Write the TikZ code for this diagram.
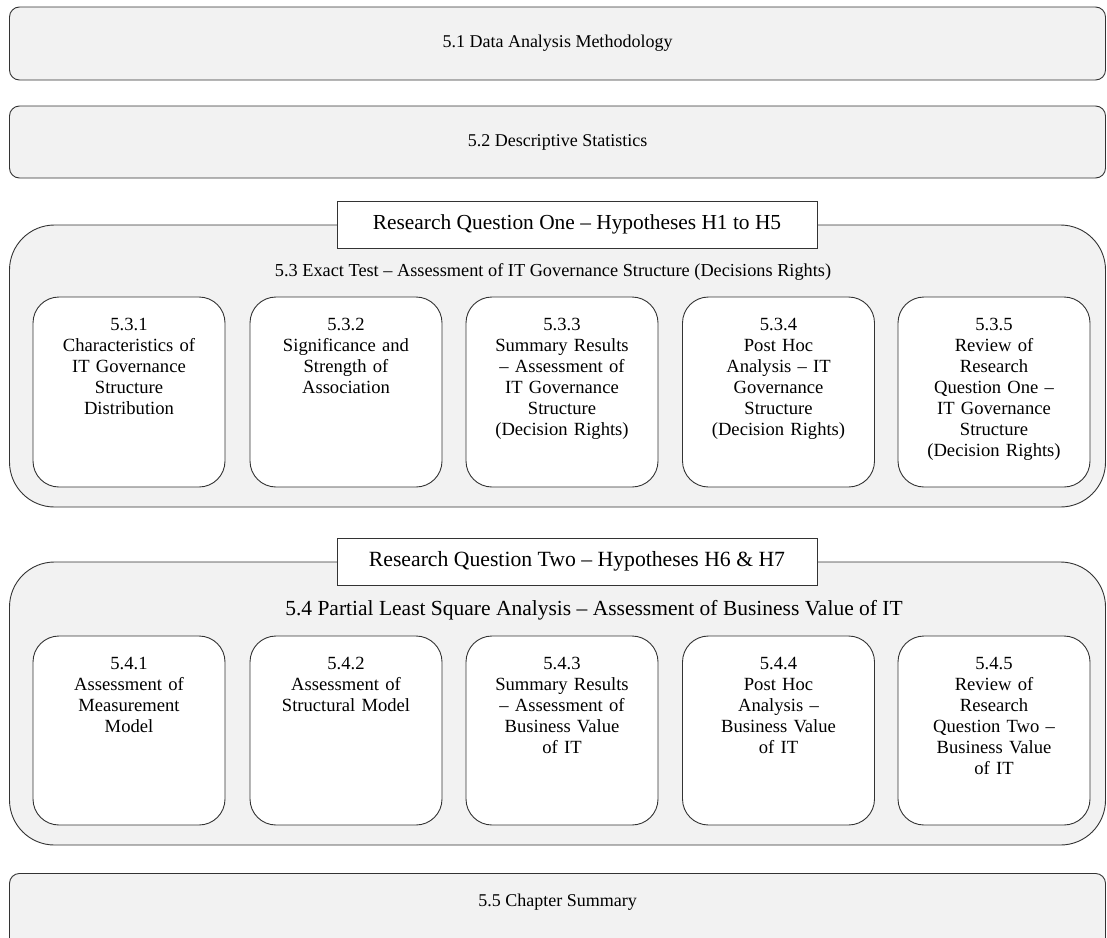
\documentclass[tikz,border=0pt]{standalone}
\usepackage{fontspec}
\setmainfont{Liberation Serif}
\definecolor{boxgray}{HTML}{F2F2F2}
\definecolor{edge}{HTML}{333333}
\begin{document}
\begin{tikzpicture}[x=1pt,y=-1pt,
  topbox/.style={draw=edge, fill=boxgray, rounded corners=10pt, line width=0.9pt,
    minimum width=1096pt, inner sep=0pt, font=\fontsize{18}{21}\selectfont},
  bigbox/.style={draw=edge, fill=boxgray, rounded corners=45pt, line width=0.9pt,
    minimum width=1096pt, inner sep=0pt},
  labelbox/.style={draw=edge, fill=white, line width=0.9pt, minimum width=480pt,
    minimum height=47pt, inner sep=0pt, font=\fontsize{21.4}{24}\selectfont},
  titletext/.style={inner sep=0pt, font=\fontsize{18.3}{21}\selectfont},
  subbox/.style={draw=edge, fill=white, rounded corners=26pt, line width=0.9pt,
    minimum width=192pt, minimum height=190pt, inner sep=0pt},
  subtext/.style={anchor=north, inner sep=0pt, align=center, text width=186pt,
    font=\fontsize{18.6}{21}\selectfont}
]
\clip (0,0) rectangle (1107,937);
\useasboundingbox (0,0) rectangle (1107,937);
\fill[white] (0,0) rectangle (1107,937);

% top boxes
\node[topbox, minimum height=73pt] (s1) at (557.5,43.5) {5.1 Data Analysis Methodology};
\node[topbox, minimum height=72pt] (s2) at (557.5,142) {5.2 Descriptive Statistics};

% section 5.3
\node[bigbox, minimum height=282pt] (g3) at (557.5,366) {};
\node[labelbox] (l3) at (577,224.5) {Research Question One -- Hypotheses H1 to H5};
\node[titletext] (t3) at (553,272) {5.3 Exact Test -- Assessment of IT Governance Structure (Decisions Rights)};

\foreach \n/\x in {1/129,2/346,3/562,4/778.5,5/994}{
  \node[subbox] (b3\n) at (\x,392) {};
}
\node[subtext] (tx31) at ([yshift=-21pt]b31.north) {5.3.1\\Characteristics of\\IT Governance\\Structure\\Distribution};
\node[subtext] (tx32) at ([yshift=-21pt]b32.north) {5.3.2\\Significance and\\Strength of\\Association};
\node[subtext] (tx33) at ([yshift=-21pt]b33.north) {5.3.3\\Summary Results\\-- Assessment of\\IT Governance\\Structure\\(Decision Rights)};
\node[subtext] (tx34) at ([yshift=-21pt]b34.north) {5.3.4\\Post Hoc\\Analysis -- IT\\Governance\\Structure\\(Decision Rights)};
\node[subtext] (tx35) at ([yshift=-21pt]b35.north) {5.3.5\\Review of\\Research\\Question One --\\IT Governance\\Structure\\(Decision Rights)};

% section 5.4
\node[bigbox, minimum height=283pt] (g4) at (557.5,703.5) {};
\node[labelbox, font=\fontsize{21.7}{24}\selectfont] (l4) at (577,561.5) {Research Question Two -- Hypotheses H6 \& H7};
\node[titletext, font=\fontsize{21.5}{24}\selectfont] (t4) at (594,610) {5.4 Partial Least Square Analysis -- Assessment of Business Value of IT};

\foreach \n/\x in {1/129,2/346,3/562,4/778.5,5/994}{
  \node[subbox, minimum height=189pt] (b4\n) at (\x,730.5) {};
}
\node[subtext] (tx41) at ([yshift=-21pt]b41.north) {5.4.1\\Assessment of\\Measurement\\Model};
\node[subtext] (tx42) at ([yshift=-21pt]b42.north) {5.4.2\\Assessment of\\Structural Model};
\node[subtext] (tx43) at ([yshift=-21pt]b43.north) {5.4.3\\Summary Results\\-- Assessment of\\Business Value\\of IT};
\node[subtext] (tx44) at ([yshift=-21pt]b44.north) {5.4.4\\Post Hoc\\Analysis --\\Business Value\\of IT};
\node[subtext] (tx45) at ([yshift=-21pt]b45.north) {5.4.5\\Review of\\Research\\Question Two --\\Business Value\\of IT};

% section 5.5 (cut off by the page edge)
\node[topbox, minimum height=120pt, anchor=north] (s5) at (557.5,873) {};
\node[inner sep=0pt, font=\fontsize{18}{21}\selectfont] (t5) at (557.5,902) {5.5 Chapter Summary};
\end{tikzpicture}
\end{document}
